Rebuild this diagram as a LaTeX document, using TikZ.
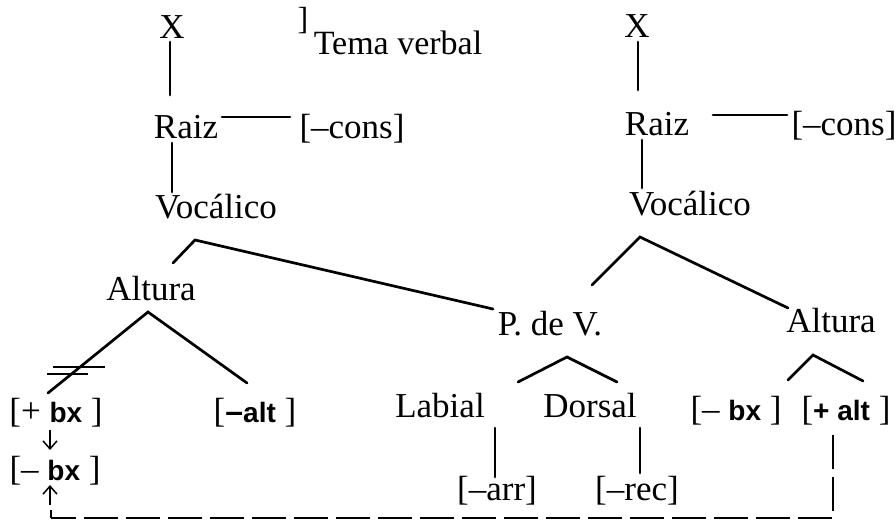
\documentclass[tikz,border=0pt]{standalone}
\usepackage{fontspec}
\setmainfont{Liberation Serif}
\setsansfont{Liberation Sans}
\usetikzlibrary{arrows.meta}
\newcommand{\fb}[1]{{\sffamily\bfseries\fontsize{28}{32}\selectfont #1}}
\begin{document}
\begin{tikzpicture}[x=1pt,y=-1pt,
  lbl/.style={font=\fontsize{35}{40}\selectfont, inner sep=0pt, anchor=base},
  edge/.style={line width=2.7pt, line cap=round},
  thin/.style={line width=1.4pt},
  dashline/.style={line width=2.6pt, dash pattern=on 34pt off 8pt},
  arr/.style={line width=1.5pt, -{Straight Barb[length=8pt,width=14pt,line width=1.5pt]}}]
\useasboundingbox (0,0) rectangle (896,520);
\fill[white] (0,0) rectangle (896,520);
% left tree
\node[lbl] (xL) at (172,38) {X};
\node[lbl, font=\fontsize{32}{34}\selectfont] (temaBr) at (303,29) {]};
\node[lbl, font=\fontsize{34}{38}\selectfont] (tema) at (398,54) {Tema verbal};
\node[lbl] (raizL) at (186,138) {Raiz};
\node[lbl] (consL) at (352,138) {[--cons]};
\node[lbl] (vocL) at (216,218) {Vocálico};
\node[lbl] (altL) at (151,300) {Altura};
\node[lbl] (plusbxL) at (56,422) {[+ \fb{bx} ]};
\node[lbl] (minusalt) at (255,422) {[\fb{\fontsize{32}{32}\selectfont –}\fb{alt} ]};
\node[lbl] (minusbxL) at (55,480) {[– \fb{bx} ]};
% right tree
\node[lbl] (xR) at (637,37) {X};
\node[lbl] (raizR) at (657,135) {Raiz};
\node[lbl] (consR) at (844,135) {[--cons]};
\node[lbl] (vocR) at (690,215) {Vocálico};
\node[lbl] (pdv) at (550,335) {P. de V.};
\node[lbl] (altR) at (831,332) {Altura};
\node[lbl] (labial) at (440,417) {Labial};
\node[lbl] (dorsal) at (590,417) {Dorsal};
\node[lbl] (minusbxR) at (736,420) {[– \fb{bx} ]};
\node[lbl] (plusalt) at (846,420) {[\fb{+ alt} ]};
\node[lbl] (arrN) at (497,500) {[--arr]};
\node[lbl] (recN) at (637,500) {[--rec]};
% connector ends
\coordinate (c1) at (170,42);  \coordinate (c2) at (170,95);
\coordinate (c3) at (222,117); \coordinate (c4) at (290,117);
\coordinate (c5) at (172,143); \coordinate (c6) at (172,192);
\coordinate (d1) at (638,42);  \coordinate (d2) at (638,90);
\coordinate (d3) at (713,115); \coordinate (d4) at (787,115);
\coordinate (d5) at (642,140); \coordinate (d6) at (642,188);
\coordinate (vL0) at (173,263); \coordinate (vLa) at (195,240); \coordinate (vL1) at (493,309);
\coordinate (vR0) at (592,285); \coordinate (vRa) at (640,237); \coordinate (vR1) at (788,308);
\coordinate (aL0) at (48,393); \coordinate (aLa) at (148,312); \coordinate (aL1) at (247,383);
\coordinate (p0) at (518,382); \coordinate (pa) at (567,357); \coordinate (p1) at (617,382);
\coordinate (aR0) at (788,380); \coordinate (aRa) at (813,355); \coordinate (aR1) at (863,381);
\coordinate (lb0) at (495,428); \coordinate (lb1) at (495,477);
\coordinate (ds0) at (640,428); \coordinate (ds1) at (640,473);
\coordinate (k0) at (833,435); \coordinate (k1) at (833,518); \coordinate (k2) at (51,518); \coordinate (k3) at (51,510);
\coordinate (u0) at (50,505); \coordinate (u1) at (50,485);
\coordinate (w0) at (50,430); \coordinate (w1) at (50,450);
\draw[edge] (c1) -- (c2);
\draw[edge] (c3) -- (c4);
\draw[edge] (c5) -- (c6);
\draw[edge] (d1) -- (d2);
\draw[edge] (d3) -- (d4);
\draw[edge] (d5) -- (d6);
\draw[edge] (vL0) -- (vLa) -- (vL1);
\draw[edge] (vR0) -- (vRa) -- (vR1);
\draw[edge] (aL0) -- (aLa) -- (aL1);
\draw[edge] (p0) -- (pa) -- (p1);
\draw[edge] (aR0) -- (aRa) -- (aR1);
\draw[edge] (lb0) -- (lb1);
\draw[edge] (ds0) -- (ds1);
\draw[thin] (53,367) -- (105,367);
\draw[thin] (47,374) -- (88,374);
\draw[arr] (w0) -- (w1);
\draw[arr] (u0) -- (u1);
\draw[dashline] (k0) -- (k1) -- (k2);
\draw[line width=2.6pt] (k2) -- (k3);
\end{tikzpicture}
\end{document}
